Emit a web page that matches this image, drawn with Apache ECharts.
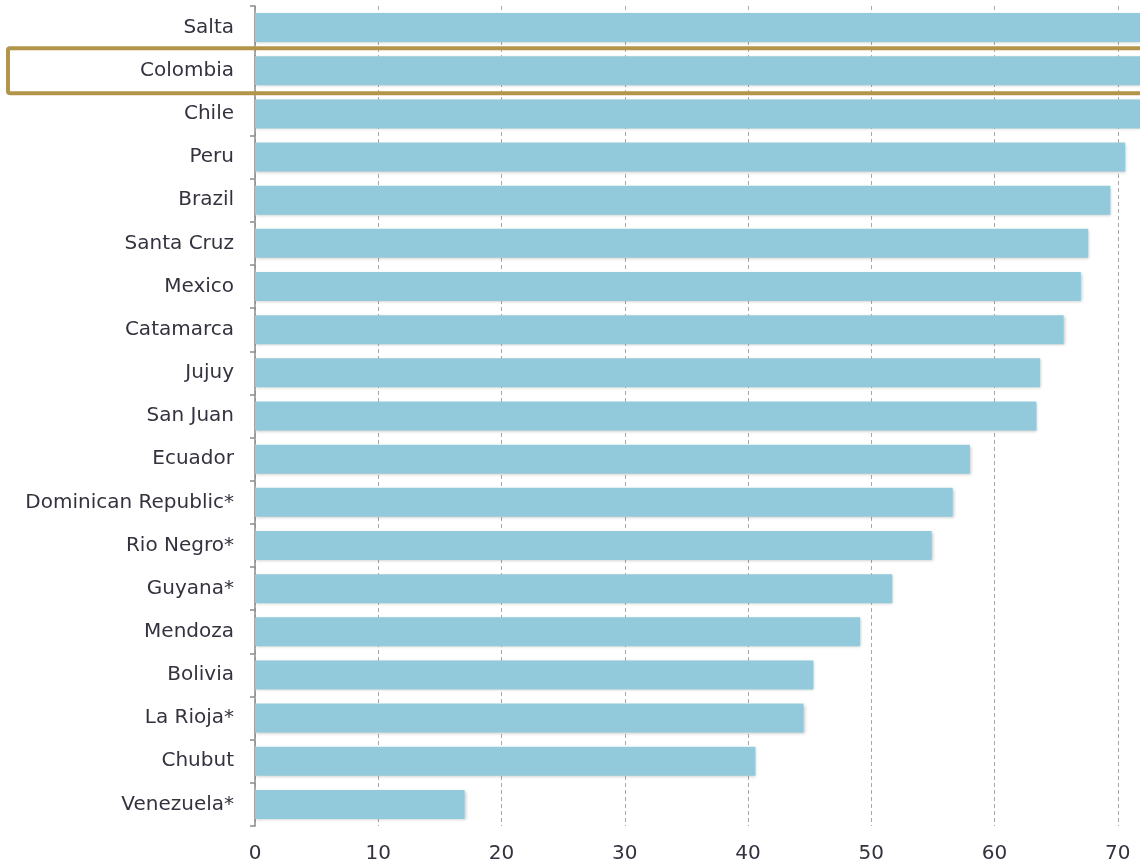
<!DOCTYPE html>
<html>
<head>
<meta charset="utf-8">
<script src="https://cdn.jsdelivr.net/npm/echarts@6/dist/echarts.min.js"></script>
<style>
html,body{margin:0;padding:0;background:#fff;}
#c{width:1140px;height:864px;}
</style>
</head>
<body>
<div id="c"></div>
<script>
var categories = ["Salta","Colombia","Chile","Peru","Brazil","Santa Cruz","Mexico","Catamarca","Jujuy","San Juan","Ecuador","Dominican Republic*","Rio Negro*","Guyana*","Mendoza","Bolivia","La Rioja*","Chubut","Venezuela*"];
var values = [75, 74, 73, 70.6, 69.4, 67.6, 67.0, 65.6, 63.7, 63.4, 58.0, 56.6, 54.9, 51.7, 49.1, 45.3, 44.5, 40.6, 17.0];
var xTicks = [0, 10, 20, 30, 40, 50, 60, 70];
var highlighted = "Colombia";

var chart = echarts.init(document.getElementById('c'), null, {renderer: 'canvas'});
var textColor = '#33333f';
var font = 'DejaVu Sans';
chart.setOption({
  animation: false,
  grid: {left: 255, right: 0, top: 6, bottom: 37, containLabel: false},
  xAxis: {
    type: 'value', min: 0, max: 71.8, interval: 10,
    axisLine: {show: false}, axisTick: {show: false},
    splitLine: {show: true, lineStyle: {color: '#a8a8a8', type: [4, 3], width: 1}},
    axisLabel: {
      color: textColor, fontSize: 20, fontFamily: font, margin: 18,
      showMaxLabel: false,
      formatter: function (v) { return xTicks.indexOf(v) >= 0 ? String(v) : ''; }
    }
  },
  yAxis: {
    type: 'category', data: categories, inverse: true,
    axisLine: {show: true, lineStyle: {color: '#8c8c8c', width: 1.5}},
    axisTick: {show: true, length: 5, lineStyle: {color: '#8c8c8c', width: 1.5}},
    axisLabel: {color: textColor, fontSize: 20, fontFamily: font, margin: 21, padding: [6, 0, 0, 0]}
  },
  series: [{
    type: 'bar', data: values, barWidth: 29,
    itemStyle: {
      color: '#93cadb',
      shadowColor: 'rgba(0,0,0,0.22)', shadowBlur: 3, shadowOffsetX: 1, shadowOffsetY: 1
    }
  }]
});

var yc = chart.convertToPixel({yAxisIndex: 0}, highlighted);
chart.setOption({
  graphic: [{
    type: 'rect', z: 100,
    shape: {x: 8, y: yc - 22.5, width: 1160, height: 45, r: 2},
    style: {fill: 'none', stroke: '#b3954a', lineWidth: 4}
  }]
});
</script>
</body>
</html>
